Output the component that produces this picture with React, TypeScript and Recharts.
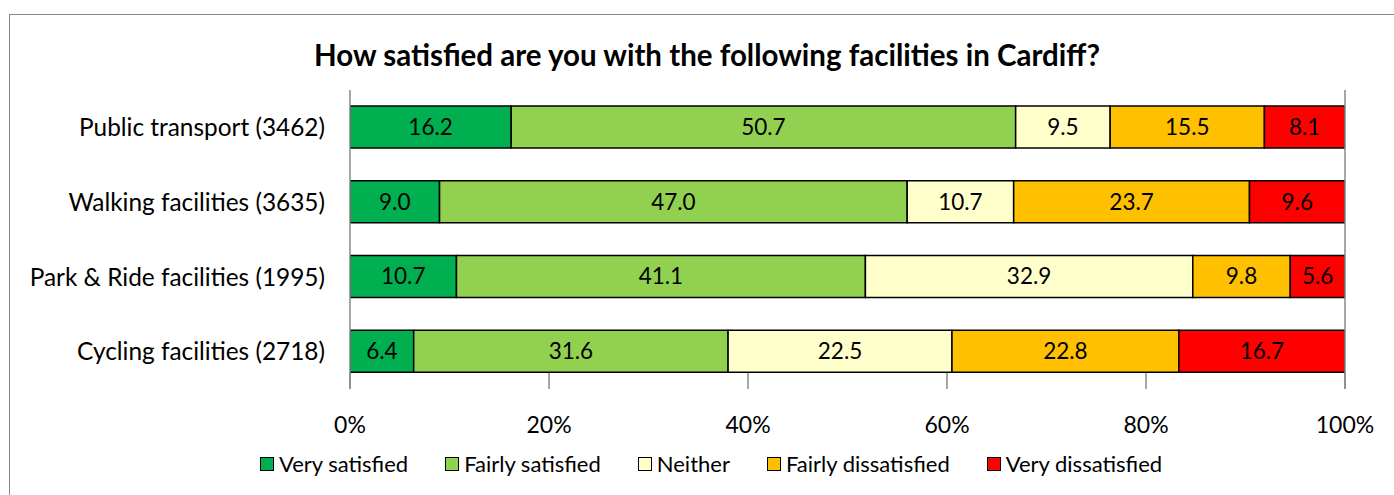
import React from "react";
import {
  BarChart,
  Bar,
  XAxis,
  YAxis,
  LabelList,
  ReferenceLine,
} from "recharts";

// ---------- data ----------

const categories = [
  "Public transport (3462)",
  "Walking facilities (3635)",
  "Park & Ride facilities (1995)",
  "Cycling facilities (2718)",
];

const verySatisfied = [16.2, 9.0, 10.7, 6.4];
const fairlySatisfied = [50.7, 47.0, 41.1, 31.6];
const neither = [9.5, 10.7, 32.9, 22.5];
const fairlyDissatisfied = [15.5, 23.7, 9.8, 22.8];
const veryDissatisfied = [8.1, 9.6, 5.6, 16.7];

const xTicks = [0, 20, 40, 60, 80, 100];

const SERIES = [
  { key: "vs", name: "Very satisfied", color: "#00B050" },
  { key: "fs", name: "Fairly satisfied", color: "#92D050" },
  { key: "ne", name: "Neither", color: "#FFFFCC" },
  { key: "fd", name: "Fairly dissatisfied", color: "#FFC000" },
  { key: "vd", name: "Very dissatisfied", color: "#FF0000" },
];

const data = categories.map((name, i) => ({
  name,
  vs: verySatisfied[i],
  fs: fairlySatisfied[i],
  ne: neither[i],
  fd: fairlyDissatisfied[i],
  vd: veryDissatisfied[i],
}));

const FONT = "Lato, 'Open Sans', sans-serif";
const AXIS_GREY = "#898989";

// tick mark drawn upward from the plot bottom, label well below it
function XTick(props: any) {
  const { x, y, payload } = props;
  return (
    <g>
      <line x1={x} x2={x} y1={y - 16} y2={y} stroke={AXIS_GREY} strokeWidth={1.5} />
      <text
        x={x}
        y={y + 35}
        textAnchor="middle"
        dominantBaseline="central"
        fontSize={23}
        fontFamily={FONT}
        fill="#000"
      >
        {payload.value}%
      </text>
    </g>
  );
}

export default function App() {
  return (
    <div
      style={{
        position: "absolute",
        left: 0,
        top: 0,
        width: 1394,
        height: 495,
        overflow: "hidden",
        background: "#fff",
      }}
    >
      <div
        style={{
          position: "absolute",
          left: 9,
          top: 14,
          width: 1450,
          height: 550,
          border: `1.5px solid ${AXIS_GREY}`,
        }}
      />
      <div
        style={{
          position: "absolute",
          left: 0,
          top: 40,
          width: 1414,
          textAlign: "center",
          fontFamily: FONT,
          fontWeight: 700,
          fontSize: 29.5,
          lineHeight: "30px",
          color: "#000",
        }}
      >
        How satisfied are you with the following facilities in Cardiff?
      </div>
      <div style={{ position: "absolute", left: 0, top: 0 }}>
        <BarChart
          width={1394}
          height={495}
          data={data}
          layout="vertical"
          margin={{ top: 90, right: 49, bottom: 0, left: 0 }}
          barSize={42}
        >
          <XAxis
            type="number"
            domain={[0, 100]}
            allowDataOverflow
            ticks={xTicks}
            axisLine={false}
            tickLine={false}
            tickSize={0}
            tickMargin={0}
            height={106}
            tick={<XTick />}
            interval={0}
          />
          <YAxis
            type="category"
            dataKey="name"
            width={350}
            axisLine={{ stroke: AXIS_GREY, strokeWidth: 1.5 }}
            tickLine={false}
            tickSize={0}
            tickMargin={25}
            tick={{ fontSize: 24.4, fontFamily: FONT, fill: "#000" }}
          />
          <ReferenceLine x={100} stroke={AXIS_GREY} strokeWidth={1.5} />
          {SERIES.map((s) => (
            <Bar
              key={s.key}
              dataKey={s.key}
              name={s.name}
              stackId="a"
              fill={s.color}
              stroke="#000"
              strokeWidth={1.5}
              isAnimationActive={false}
            >
              <LabelList
                dataKey={s.key}
                position="center"
                formatter={(v: any) => Number(v).toFixed(1)}
                style={{ fontSize: 22.5, fontFamily: FONT, fill: "#000" }}
              />
            </Bar>
          ))}
        </BarChart>
      </div>
      <div
        style={{
          position: "absolute",
          left: 0,
          top: 451,
          width: 1422,
          display: "flex",
          justifyContent: "center",
          alignItems: "center",
          gap: 37,
          fontFamily: FONT,
          fontSize: 22,
          lineHeight: "26px",
          color: "#000",
        }}
      >
        {SERIES.map((s) => (
          <div key={s.key} style={{ display: "flex", alignItems: "center" }}>
            <span
              style={{
                display: "inline-block",
                width: 12,
                height: 12,
                background: s.color,
                border: "1.5px solid #000",
                marginRight: 5,
              }}
            />
            <span>{s.name}</span>
          </div>
        ))}
      </div>
    </div>
  );
}
